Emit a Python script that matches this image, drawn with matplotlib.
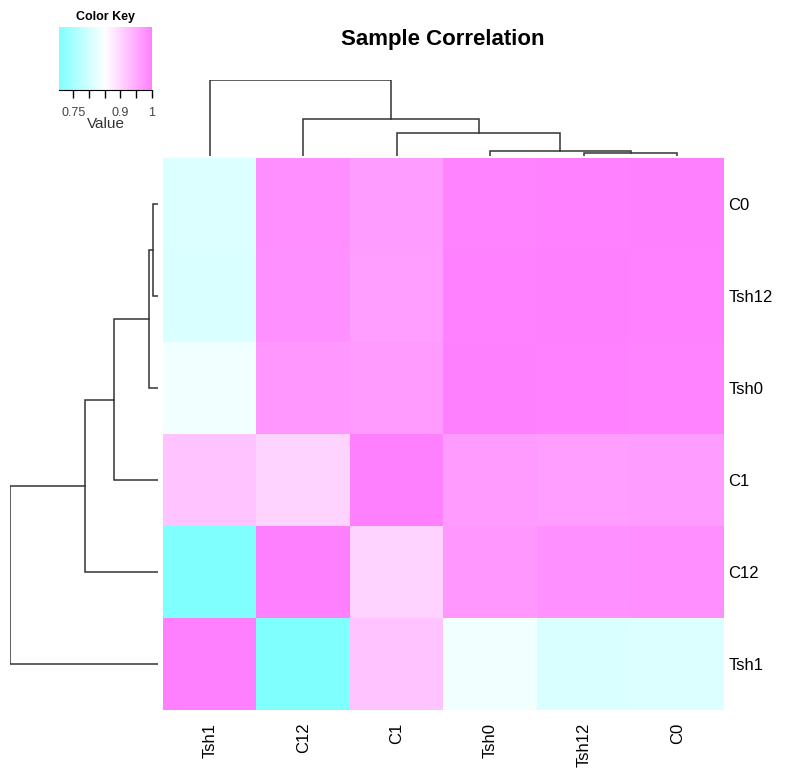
import numpy as np
import matplotlib
matplotlib.use("Agg")
import matplotlib.pyplot as plt
from matplotlib.colors import LinearSegmentedColormap

plt.rcParams["font.family"] = ["Liberation Sans", "DejaVu Sans"]

# samples in dendrogram (row) order, top to bottom
samples = ["C0", "Tsh12", "Tsh0", "C1", "C12", "Tsh1"]

# correlation matrix, same order as samples
corr = np.array([
    [1.000, 0.997, 0.996, 0.966, 0.981, 0.813],
    [0.997, 1.000, 0.997, 0.964, 0.980, 0.810],
    [0.996, 0.997, 1.000, 0.968, 0.972, 0.838],
    [0.966, 0.964, 0.968, 1.000, 0.903, 0.920],
    [0.981, 0.980, 0.972, 0.903, 1.000, 0.705],
    [0.813, 0.810, 0.838, 0.920, 0.705, 1.000],
])

# hierarchical clustering merges (node ids: leaves 0..5, new clusters 6..)
link_a = [0, 6, 7, 8, 9]
link_b = [1, 2, 3, 4, 5]
link_h = [0.035, 0.06, 0.30, 0.49, 1.00]

key_ticks = [0.75, 0.80, 0.85, 0.90, 0.95, 1.00]
key_labels = ["0.75", "", "", "0.9", "", "1"]

cmap = LinearSegmentedColormap.from_list("cwm", ["#80FFFF", "#FFFFFF", "#FF80FF"])
vmin, vmax = corr.min(), corr.max()

W, H = 786, 771
fig = plt.figure(figsize=(W / 100, H / 100), dpi=100)


def box(x0, y0, x1, y1):
    # pixel box (top-left origin) -> figure fraction rect
    return [x0 / W, 1 - y1 / H, (x1 - x0) / W, (y1 - y0) / H]


def dendro_lines(leaf_pos):
    pos = {i: p for i, p in enumerate(leaf_pos)}
    hgt = {i: 0.0 for i in range(len(leaf_pos))}
    segs = []
    for k, (a, b, h) in enumerate(zip(link_a, link_b, link_h)):
        segs.append(([pos[a], pos[a], pos[b], pos[b]], [hgt[a], h, h, hgt[b]]))
        node = len(leaf_pos) + k
        pos[node] = (pos[a] + pos[b]) / 2
        hgt[node] = h
    return segs


n = len(samples)

# heatmap
ax = fig.add_axes(box(163, 158, 724, 710))
shown = corr[:, ::-1]
ax.imshow(shown, cmap=cmap, vmin=vmin, vmax=vmax, aspect="auto",
          interpolation="nearest", extent=[0, n, n, 0])
ax.set_xlim(0, n)
ax.set_ylim(n, 0)
ax.set_xticks(np.arange(n) + 0.5)
ax.set_xticklabels(samples[::-1], rotation=90, fontsize=12)
ax.set_yticks(np.arange(n) + 0.5)
ax.set_yticklabels(samples, fontsize=12)
ax.yaxis.tick_right()
ax.tick_params(axis="y", length=0, pad=3)
ax.tick_params(axis="x", length=0, pad=9)
for s in ax.spines.values():
    s.set_visible(False)

# row dendrogram (left)
axr = fig.add_axes(box(10, 158, 158, 710))
for xs, ys in dendro_lines(np.arange(n) + 0.5):
    axr.plot(ys, xs, color="#333333", lw=1.1, solid_joinstyle="miter")
axr.set_xlim(max(link_h), 0)
axr.set_ylim(n, 0)
axr.axis("off")

# column dendrogram (top)
axc = fig.add_axes(box(163, 80, 724, 155.5))
col_pos = n - 1 - np.arange(n) + 0.5
for xs, ys in dendro_lines(col_pos):
    axc.plot(xs, ys, color="#333333", lw=1.1, solid_joinstyle="miter")
axc.set_xlim(0, n)
axc.set_ylim(0, max(link_h))
axc.axis("off")

# color key
axk = fig.add_axes(box(59, 27, 152, 90))
grad = np.linspace(vmin, vmax, 256).reshape(1, -1)
axk.imshow(grad, cmap=cmap, vmin=vmin, vmax=vmax, aspect="auto",
           extent=[vmin, vmax, 0, 1])
axk.set_xlim(vmin, vmax)
axk.set_xticks(key_ticks)
axk.set_xticklabels(key_labels, fontsize=9, color="#444444")
axk.tick_params(axis="x", length=6, width=1, pad=6)
axk.set_yticks([])
for side in ["top", "left", "right"]:
    axk.spines[side].set_visible(False)
axk.set_xlabel("Value", fontsize=11, labelpad=-1, color="#333333")
axk.set_title("Color Key", fontsize=9, fontweight="bold", pad=5)

fig.text(443 / W, 1 - 40 / H, "Sample Correlation", ha="center", va="center",
         fontsize=16, fontweight="bold")

fig.savefig("out.png", dpi=100)
